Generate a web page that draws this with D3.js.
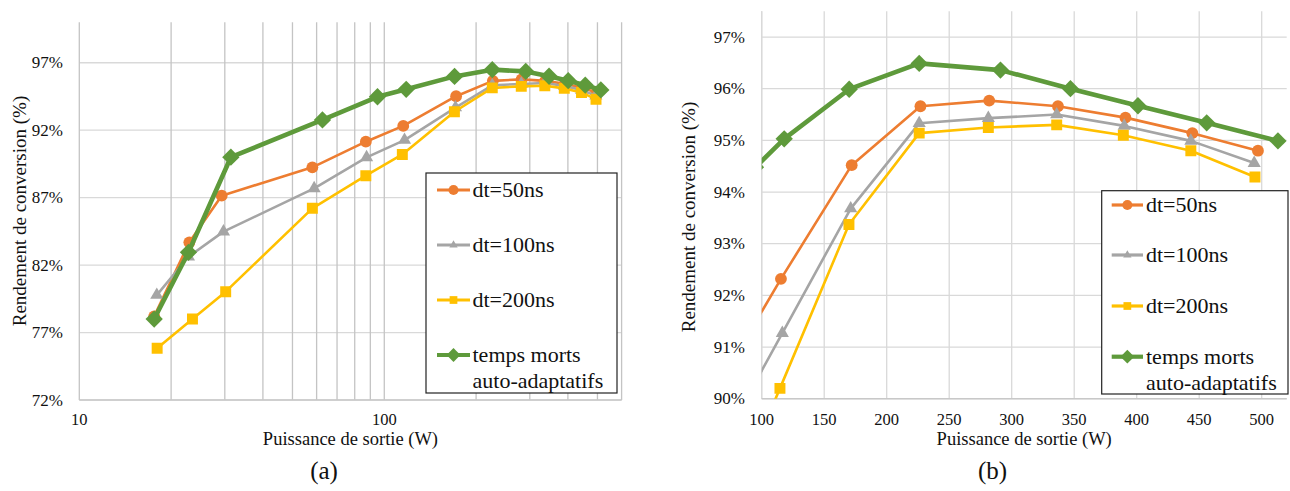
<!DOCTYPE html>
<html>
<head>
<meta charset="utf-8">
<script src="https://cdn.jsdelivr.net/npm/d3@7"></script>
<style>
  html, body { margin: 0; padding: 0; background: #fff; }
  svg { display: block; }
</style>
</head>
<body>
<svg id="chart" width="1290" height="491" font-family="Liberation Serif, DejaVu Serif, serif"></svg>
<script>
// ---------------- DATA ----------------
const seriesNames = ["dt=50ns", "dt=100ns", "dt=200ns", "temps morts auto-adaptatifs"];

const power50  = [17.6, 22.95, 29.3, 58.1, 87.0, 115.4, 172.0, 227.0, 282.0, 337.0, 391.0, 444.5, 497.0];
const eff50    = [78.2, 83.69, 87.15, 89.25, 91.15, 92.32, 94.52, 95.66, 95.77, 95.66, 95.44, 95.14, 94.80];

const power100 = [17.95, 22.8, 29.7, 58.9, 87.5, 116.5, 171.2, 226.0, 281.3, 336.0, 390.0, 443.3, 494.0];
const eff100   = [79.78, 82.62, 84.48, 87.69, 89.99, 91.27, 93.68, 95.33, 95.43, 95.50, 95.28, 94.99, 94.56];

const power200 = [18.0, 23.5, 30.2, 58.1, 87.0, 114.6, 169.8, 226.0, 281.3, 336.0, 389.3, 443.3, 494.6];
const eff200   = [75.83, 78.0, 80.03, 86.21, 88.63, 90.2, 93.37, 95.14, 95.25, 95.30, 95.10, 94.80, 94.29];

const powerAdapt = [17.6, 22.8, 31.4, 62.7, 95.0, 118.0, 170.0, 226.0, 291.0, 347.0, 401.0, 456.0, 513.0];
const effAdapt   = [78.0, 82.95, 90.0, 92.76, 94.48, 95.03, 95.99, 96.49, 96.36, 96.0, 95.67, 95.34, 94.99];

const leftYTicks   = [72, 77, 82, 87, 92, 97];
const leftXLabels  = [10, 100];
const leftXGrid    = [20, 30, 40, 50, 60, 70, 80, 90, 100, 200, 300, 400, 500, 600];
const rightYTicks  = [90, 91, 92, 93, 94, 95, 96, 97];
const rightXTicks  = [100, 150, 200, 250, 300, 350, 400, 450, 500];

const xTitle = "Puissance de sortie (W)";
const yTitle = "Rendement de conversion (%)";
const captions = ["(a)", "(b)"];

// ---------------- STYLE ----------------
const FONT = "'Liberation Serif', 'DejaVu Serif', serif";
const styles = [
  { color: "#ED7D31", width: 2.6, symbol: d3.symbolCircle,   size: 110, rot: 0,  lsize: 80, lwidth: 3.2 },
  { color: "#A5A5A5", width: 2.6, symbol: d3.symbolTriangle, size: 75,  rot: 0,  lsize: 30, lwidth: 3.2 },
  { color: "#FFC000", width: 2.6, symbol: d3.symbolSquare,   size: 120, rot: 0,  lsize: 60, lwidth: 3.2 },
  { color: "#5E9A3B", width: 4.6, symbol: d3.symbolSquare,   size: 150, rot: 45, lsize: 95, lwidth: 4.2 }
];

const series = [
  { name: seriesNames[0], x: power50,   y: eff50 },
  { name: seriesNames[1], x: power100,  y: eff100 },
  { name: seriesNames[2], x: power200,  y: eff200 },
  { name: seriesNames[3], x: powerAdapt, y: effAdapt }
].map((s, i) => ({ ...s, style: styles[i], pts: s.x.map((v, j) => [v, s.y[j]]) }));

const svg = d3.select("#chart");
const pct = d => d + "%";

function txt(sel, size) {
  return sel.style("font-family", FONT).style("font-size", size + "px").attr("fill", "#111");
}

function drawPanel(cfg) {
  const g = svg.append("g");
  const x = cfg.xScale, y = cfg.yScale;
  const [x0, x1] = x.range(), [y0, y1] = y.range();

  // grid
  g.append("g").selectAll("line").data(cfg.yTicks).join("line")
    .attr("x1", x0).attr("x2", x1)
    .attr("y1", d => y(d)).attr("y2", d => y(d))
    .attr("stroke", "#d9d9d9").attr("stroke-width", 1.3);
  g.append("g").selectAll("line").data(cfg.xGrid).join("line")
    .attr("x1", d => x(d)).attr("x2", d => x(d))
    .attr("y1", y0).attr("y2", y1)
    .attr("stroke", cfg.vGridColor).attr("stroke-width", 1.3);
  // axis lines
  g.append("line").attr("x1", x0).attr("x2", x0).attr("y1", y0).attr("y2", y1)
    .attr("stroke", cfg.vGridColor).attr("stroke-width", 1.3);
  g.append("line").attr("x1", x0).attr("x2", x1).attr("y1", y0).attr("y2", y0)
    .attr("stroke", "#c8c8c8").attr("stroke-width", 1.5);

  // tick labels
  txt(g.append("g").selectAll("text").data(cfg.yTicks).join("text")
    .attr("x", cfg.yLabelX).attr("y", d => y(d)).attr("dy", "0.33em")
    .attr("text-anchor", "end"), 17).text(pct);
  txt(g.append("g").selectAll("text").data(cfg.xLabels).join("text")
    .attr("x", d => x(d)).attr("y", 424.5)
    .attr("text-anchor", "middle"), 16.5).text(d => d);

  // titles
  txt(g.append("text").attr("x", (x0 + x1) / 2).attr("y", 444.5)
    .attr("text-anchor", "middle"), 18.5).text(xTitle);
  txt(g.append("text").attr("transform", `translate(${cfg.yTitleX},${cfg.yTitleY}) rotate(-90)`)
    .attr("text-anchor", "middle"), 19).text(yTitle);
  txt(g.append("text").attr("x", cfg.captionX).attr("y", 479)
    .attr("text-anchor", "middle"), 25).text(cfg.caption);

  // clip
  const clipId = "clip" + cfg.id;
  svg.append("clipPath").attr("id", clipId).append("rect")
    .attr("x", x0).attr("y", y1).attr("width", x1 - x0).attr("height", y0 - y1);
  const plot = g.append("g").attr("clip-path", `url(#${clipId})`);

  const line = d3.line().x(d => x(d[0])).y(d => y(d[1]));
  series.forEach(s => {
    const sg = plot.append("g");
    sg.append("path").attr("d", line(s.pts)).attr("fill", "none")
      .attr("stroke", s.style.color).attr("stroke-width", s.style.width)
      .attr("stroke-linejoin", "round");
    sg.selectAll("path.m").data(s.pts).join("path").attr("class", "m")
      .attr("d", d3.symbol(s.style.symbol, s.style.size)())
      .attr("transform", d => `translate(${x(d[0])},${y(d[1])}) rotate(${s.style.rot})`)
      .attr("fill", s.style.color);
  });

  // legend
  const L = cfg.legend;
  const lg = g.append("g");
  lg.append("rect").attr("x", L.x).attr("y", L.y).attr("width", L.w).attr("height", L.h)
    .attr("fill", "#fff").attr("stroke", "#222").attr("stroke-width", 1.2);
  series.forEach((s, i) => {
    const cy = L.rows[i];
    lg.append("line").attr("x1", L.lx0).attr("x2", L.lx1).attr("y1", cy).attr("y2", cy)
      .attr("stroke", s.style.color).attr("stroke-width", s.style.lwidth);
    lg.append("path").attr("d", d3.symbol(s.style.symbol, s.style.lsize)())
      .attr("transform", `translate(${(L.lx0 + L.lx1) / 2},${cy}) rotate(${s.style.rot})`)
      .attr("fill", s.style.color);
    const words = s.name.split(" ");
    const lines = words.length > 2 ? [words.slice(0, 2).join(" "), words.slice(2).join(" ")] : [s.name];
    lines.forEach((t, k) => {
      txt(lg.append("text").attr("x", L.tx).attr("y", cy + 7 + k * L.lineGap), 22).text(t);
    });
  });
}

drawPanel({
  id: "a",
  xScale: d3.scaleLog().domain([10, 600]).range([79.3, 621.6]),
  yScale: d3.scaleLinear().domain([72, 100]).range([400, 22.3]),
  yTicks: leftYTicks, xGrid: leftXGrid, xLabels: leftXLabels,
  vGridColor: "#c4c4c4",
  yLabelX: 63, yTitleX: 26, yTitleY: 211, captionX: 324, caption: captions[0],
  legend: { x: 426, y: 173, w: 191, h: 220, lx0: 437, lx1: 470, tx: 472.5,
            rows: [190, 245, 300, 355], lineGap: 25.5 }
});

drawPanel({
  id: "b",
  xScale: d3.scaleLinear().domain([100, 520]).range([761.7, 1286.7]),
  yScale: d3.scaleLinear().domain([90, 97.5]).range([398.7, 11.2]),
  yTicks: rightYTicks, xGrid: rightXTicks, xLabels: rightXTicks,
  vGridColor: "#d9d9d9",
  yLabelX: 745, yTitleX: 695, yTitleY: 217, captionX: 992.5, caption: captions[1],
  legend: { x: 1101.7, y: 190.7, w: 186.3, h: 203.3, lx0: 1111.7, lx1: 1143, tx: 1146,
            rows: [205, 255, 306, 356.7], lineGap: 26 }
});
</script>
</body>
</html>
